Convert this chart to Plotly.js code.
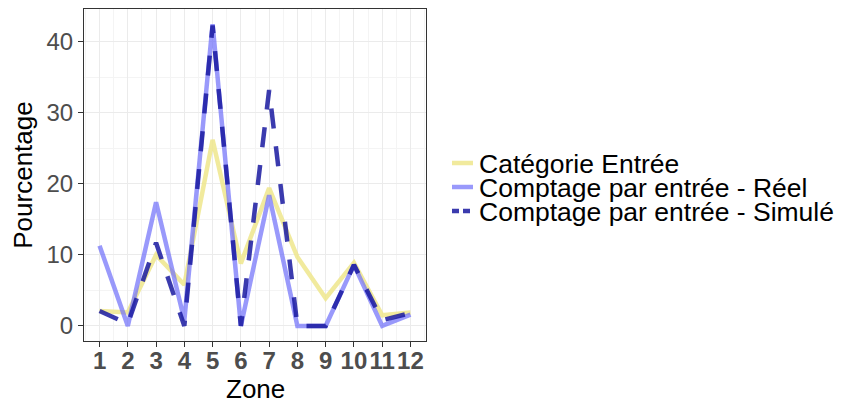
<!DOCTYPE html>
<html><head><meta charset="utf-8">
<script src="https://cdn.plot.ly/plotly-3.0.1.min.js"></script>
<style>html,body{margin:0;padding:0;background:#fff}</style>
</head><body>
<div id="chart" style="width:852px;height:403px"></div>
<script>
const zones = [1,2,3,4,5,6,7,8,9,10,11,12];
const tickLabels = ["1","2","3","4","5","6","7","8","9","10","11","12"];
const seriesNames = ["Catégorie Entrée", "Comptage par entrée - Réel", "Comptage par entrée - Simulé"];
const categorieEntree = [2.1, 1.9, 10.0, 5.8, 26.2, 8.8, 19.4, 9.7, 3.9, 8.9, 1.5, 1.9];
const comptageReel = [11.3, 0, 17.4, 0.8, 42.5, 0, 18.4, 0, 0, 8.6, 0, 1.6];
const comptageSimule = [2.1, 0.3, 11.7, 0, 42.3, 0, 33.2, 0, 0, 8.6, 0.8, 1.8];

const colors = ['rgba(238,230,140,0.85)', 'rgba(110,110,250,0.7)', 'rgba(25,25,160,0.85)'];
const dashes = ['solid', 'solid', '20px,18px'];
const legendDashes = ['solid', 'solid', '7px,4px'];
const seriesValues = [categorieEntree, comptageReel, comptageSimule];

const traces = seriesValues.map((v, i) => ({
  x: zones, y: v, type: 'scatter', mode: 'lines', name: seriesNames[i], showlegend: false,
  line: {color: colors[i], width: 4.5, dash: dashes[i]}
}));

// plot area in pixels
const L = 84, R = 426, T = 9, B = 62, W = 852, H = 403;
const pw = W - L - R, ph = H - T - B;
const px2x = p => (p - L) / pw;
const py2y = p => (H - B - p) / ph;
const legendY = [163, 187, 211];
const FONT = 'Liberation Sans, Arial, sans-serif';

const annotations = seriesNames.map((n, i) => ({
  xref: 'paper', yref: 'paper', x: px2x(478), y: py2y(legendY[i] + 1),
  xanchor: 'left', yanchor: 'middle', showarrow: false, text: n, borderpad: 0,
  font: {size: 26.5, color: '#000', family: FONT}
}));
annotations.push({
  xref: 'paper', yref: 'paper', x: 0.5, y: py2y(389), xanchor: 'center', yanchor: 'middle',
  showarrow: false, text: 'Zone', borderpad: 0, font: {size: 26, color: '#000', family: FONT}
});
const shapes = seriesNames.map((n, i) => ({
  type: 'line', xref: 'paper', yref: 'paper',
  x0: px2x(452), x1: px2x(473), y0: py2y(legendY[i]), y1: py2y(legendY[i]),
  line: {color: colors[i], width: 4.5, dash: legendDashes[i]}
}));

const layout = {
  width: W, height: H,
  margin: {l: L, r: R, t: T, b: B},
  paper_bgcolor: '#fff', plot_bgcolor: '#fff',
  font: {family: FONT, color: '#000'},
  showlegend: false,
  annotations: annotations,
  shapes: shapes,
  xaxis: {range: [0.45, 12.55], tickvals: zones, ticktext: tickLabels, showgrid: true, automargin: false,
    tickangle: 0, ticklabelstandoff: -7,
    gridcolor: '#EBEBEB', gridwidth: 1, zeroline: false,
    minor: {dtick: 0.5, tick0: 0.5, showgrid: true, gridcolor: '#F4F4F4', gridwidth: 1},
    ticks: 'outside', ticklen: 5, tickcolor: '#333', tickwidth: 1,
    tickfont: {size: 24, color: '#4D4D4D', family: FONT, weight: 'bold'},
    showline: true, linecolor: '#333', linewidth: 1, mirror: true},
  yaxis: {range: [-2.125, 44.625], tickvals: [0, 10, 20, 30, 40], showgrid: true, automargin: false,
    gridcolor: '#EBEBEB', gridwidth: 1, zeroline: false,
    minor: {dtick: 5, tick0: 5, showgrid: true, gridcolor: '#F4F4F4', gridwidth: 1},
    ticks: 'outside', ticklen: 5, tickcolor: '#333', tickwidth: 1,
    tickfont: {size: 24, color: '#4D4D4D'},
    showline: true, linecolor: '#333', linewidth: 1, mirror: true,
    title: {text: 'Pourcentage', font: {size: 26, color: '#000'}, standoff: 6}}
};
Plotly.newPlot('chart', traces, layout, {displayModeBar: false, staticPlot: true});
</script>
</body></html>
